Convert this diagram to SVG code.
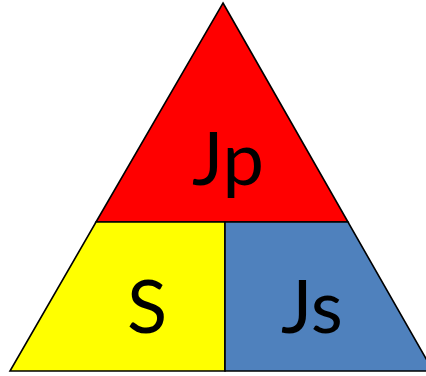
<svg xmlns="http://www.w3.org/2000/svg" width="426" height="376" viewBox="0 0 426 376">
<style>
.sec{stroke:#000;stroke-width:1.6;stroke-linejoin:miter}
.lbl{font-family:Lato,"Liberation Sans",sans-serif;font-size:74px;fill:#000;text-anchor:middle}
</style>
<rect width="426" height="376" fill="#fff"/>
<g id="top">
<polygon class="sec" points="223,3 348,222 96,222" fill="#FF0000"/>
<text class="lbl" x="228" y="185">Jp</text>
</g>
<g id="left">
<polygon class="sec" points="96,222 225,222 225,371 10,371" fill="#FFFF00"/>
<text class="lbl" x="147" y="333">S</text>
</g>
<g id="right">
<polygon class="sec" points="225,222 348,222 433,371 225,371" fill="#4F81BD"/>
<text class="lbl" x="312" y="333">Js</text>
</g>
<g id="connectors"></g>
</svg>
